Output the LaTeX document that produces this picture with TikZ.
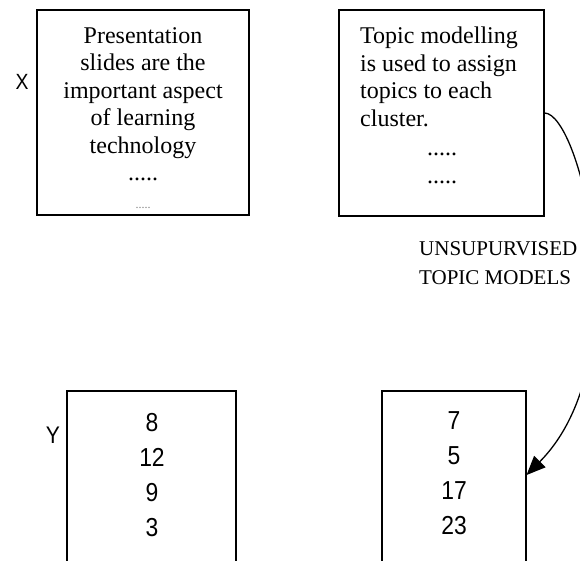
\documentclass[tikz,border=0pt]{standalone}
\usepackage{fontspec}
\setmainfont{Liberation Serif}
\newfontfamily\narrowsans[FakeStretch=0.88]{Liberation Sans}
\usetikzlibrary{arrows.meta}
\tikzset{
  panel/.style={draw,line width=1.1pt,inner sep=0pt},
  paratext/.style={inner sep=0pt,font=\fontsize{24}{27.5}\selectfont},
  numtext/.style={inner sep=0pt,align=center,anchor=north,font=\narrowsans\fontsize{26}{35}\selectfont},
  flow/.style={line width=1.3pt,-{Triangle[length=19pt,width=16pt]}}
}
\begin{document}
\begin{tikzpicture}[x=1pt,y=-1pt]
        \clip (0,0) rectangle (580,560);
        %% top boxes
        \node[panel,minimum width=212pt,minimum height=205pt] (slides) at (143,112.5) {};
        \node[panel,minimum width=205pt,minimum height=206pt] (topics) at (441.5,113) {};
        %% bottom boxes (run off the page)
        \node[panel,minimum width=169pt,minimum height=209pt] (ycount) at (151.5,495.5) {};
        \node[panel,minimum width=144pt,minimum height=209pt] (tcount) at (454,495.5) {};
        %% box texts
        \node[paratext,align=center,anchor=north] (slidestext) at (143,27)
          {Presentation\\slides are the\\important aspect\\of learning\\technology\\.....\\{\color{gray}\fontsize{12}{12}\selectfont .....}};
        \node[paratext,align=left,anchor=north west] (topicstext) at (360,27)
          {Topic modelling\\is used to assign\\topics to each\\cluster.};
        \node[paratext,align=center,anchor=north] (topicsdots) at (442,153)
          {.....\\.....};
        \node[numtext] (ynums) at (152,413) {8\\12\\9\\3};
        \node[numtext] (tnums) at (454,411) {7\\5\\17\\23};
        %% side labels
        \node[font=\narrowsans\fontsize{22}{22}\selectfont] (xlabel) at (22,82) {X};
        \node[font=\narrowsans\fontsize{24}{24}\selectfont] (ylabel) at (53,435) {Y};
        %% arrow label
        \node[inner sep=0pt,align=left,anchor=north west,font=\fontsize{21}{29}\selectfont] (method) at (419,241)
          {UNSUPURVISED\\TOPIC MODELS};
        %% arrow
        \draw[flow] (topics.east) .. controls +(36,0) and +(114,-115) .. ([yshift=20.5pt]tcount.east);
    \end{tikzpicture}
\end{document}
